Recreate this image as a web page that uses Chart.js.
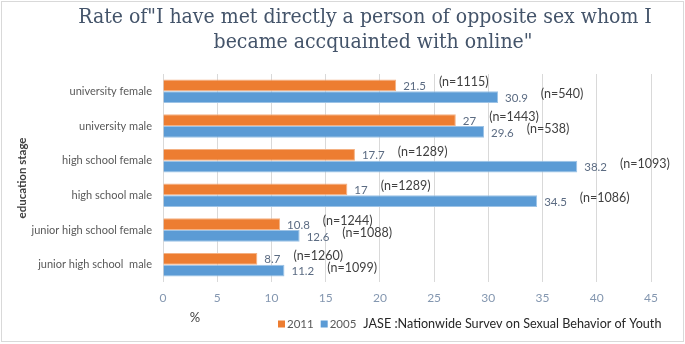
<!DOCTYPE html>
<html>
<head>
<meta charset="utf-8">
<script src="https://cdn.jsdelivr.net/npm/chart.js@4.4.0/dist/chart.umd.min.js"></script>
<style>
  html, body { margin: 0; padding: 0; background: #fff; }
  #wrap { width: 685px; height: 344px; position: relative; }
</style>
</head>
<body>
<div id="wrap"><canvas id="barChart" width="685" height="344"></canvas></div>
<script>
var categories = [
  'university female',
  'university male',
  'high school female',
  'high school male',
  'junior high school female',
  'junior high school  male'
];
var rate2011 = [21.5, 27, 17.7, 17, 10.8, 8.7];
var rate2005 = [30.9, 29.6, 38.2, 34.5, 12.6, 11.2];
var n2011 = [1115, 1443, 1289, 1289, 1244, 1260];
var n2005 = [540, 538, 1093, 1086, 1088, 1099];
var seriesNames = ['2011', '2005'];
var sourceNote = 'JASE :Nationwide Survev on Sexual Behavior of Youth';
var titleLines = ['Rate of"I have met directly a person of opposite sex whom I', 'became accquainted with online"'];
var xTickValues = [0, 5, 10, 15, 20, 25, 30, 35, 40, 45];

var orange = '#ED7D31';
var blue = '#5B9BD5';
var uiFont = 'Lato, "Open Sans", sans-serif';

// labels, title, legend and frame drawn on top of the chart
var extrasPlugin = {
  id: 'extras',
  afterDatasetsDraw: function (chart) {
    var ctx = chart.ctx;
    var counts = [n2011, n2005];
    ctx.save();
    ctx.textBaseline = 'middle';
    ctx.textAlign = 'left';
    for (var d = 0; d < 2; d++) {
      var meta = chart.getDatasetMeta(d);
      var values = chart.data.datasets[d].data;
      meta.data.forEach(function (bar, i) {
        var txt = String(values[i]);
        ctx.font = '11.5px ' + uiFont;
        ctx.fillStyle = '#5B6B82';
        var x = bar.x + 7;
        ctx.fillText(txt, x, bar.y + 1);
        var w = ctx.measureText(txt).width;
        ctx.fillStyle = '#404040';
        ctx.font = '12.5px ' + uiFont;
        ctx.fillText('(n=' + counts[d][i] + ')', x + w + 13, bar.y - 3);
      });
    }
    ctx.restore();
  },
  afterDraw: function (chart) {
    var ctx = chart.ctx;
    ctx.save();
    // title
    ctx.fillStyle = '#44546A';
    ctx.textAlign = 'center';
    ctx.textBaseline = 'middle';
    ctx.font = '21px "DejaVu Serif Condensed", "Liberation Serif", serif';
    ctx.fillText(titleLines[0], 365, 18);
    ctx.fillText(titleLines[1], 373, 43);

    // x axis unit
    ctx.font = '13px ' + uiFont;
    ctx.fillStyle = '#404040';
    ctx.fillText('%', 195, 318);

    // legend
    ctx.textAlign = 'left';
    var lx = 278;
    var ly = 324;
    var colors = [orange, blue];
    for (var i = 0; i < seriesNames.length; i++) {
      ctx.fillStyle = colors[i];
      ctx.fillRect(lx, ly - 3.5, 7, 7);
      lx += 9;
      ctx.font = '11.5px ' + uiFont;
      ctx.fillStyle = '#595959';
      ctx.fillText(seriesNames[i], lx, ly);
      lx += ctx.measureText(seriesNames[i]).width + 7;
    }
    ctx.font = '12.6px ' + uiFont;
    ctx.fillStyle = '#262626';
    ctx.fillText(sourceNote, lx, ly);

    // frame
    ctx.strokeStyle = '#D9D9D9';
    ctx.lineWidth = 1;
    ctx.strokeRect(1.5, 1.5, 682, 340);
    ctx.restore();
  }
};

var barCanvas = document.getElementById('barChart').getContext('2d');
var barChart = new Chart(barCanvas, {
  type: 'bar',
  data: {
    labels: categories,
    datasets: [
      {
        label: seriesNames[0],
        data: rate2011,
        backgroundColor: orange,
        borderColor: '#F4B183',
        borderWidth: 1,
        categoryPercentage: 0.68,
        barPercentage: 1.0
      },
      {
        label: seriesNames[1],
        data: rate2005,
        backgroundColor: blue,
        borderColor: '#9DC3E6',
        borderWidth: 1,
        categoryPercentage: 0.68,
        barPercentage: 1.0
      }
    ]
  },
  options: {
    indexAxis: 'y',
    responsive: false,
    animation: false,
    layout: {
      padding: { top: 74, right: 34, bottom: 0, left: 0 }
    },
    plugins: {
      legend: { display: false },
      title: { display: false },
      tooltip: { enabled: false }
    },
    scales: {
      x: {
        min: 0,
        max: 45,
        afterBuildTicks: function (scale) {
          scale.ticks = xTickValues.map(function (v) { return { value: v }; });
        },
        afterFit: function (scale) {
          scale.height = 62;
        },
        grid: { color: '#D9D9D9', drawTicks: false },
        border: { display: false },
        ticks: {
          padding: 9,
          color: '#8497B0',
          font: { family: uiFont, size: 12 }
        }
      },
      y: {
        afterFit: function (scale) {
          scale.width = 163;
        },
        grid: { display: false, drawTicks: false },
        border: { display: false },
        ticks: {
          padding: 11,
          color: '#595959',
          font: { family: uiFont, size: 11 }
        },
        title: {
          display: true,
          text: 'education stage',
          color: '#404040',
          padding: { top: 15, bottom: 0 },
          font: { family: uiFont, size: 11.5, weight: 'bold' }
        }
      }
    }
  },
  plugins: [extrasPlugin]
});
</script>
</body>
</html>
